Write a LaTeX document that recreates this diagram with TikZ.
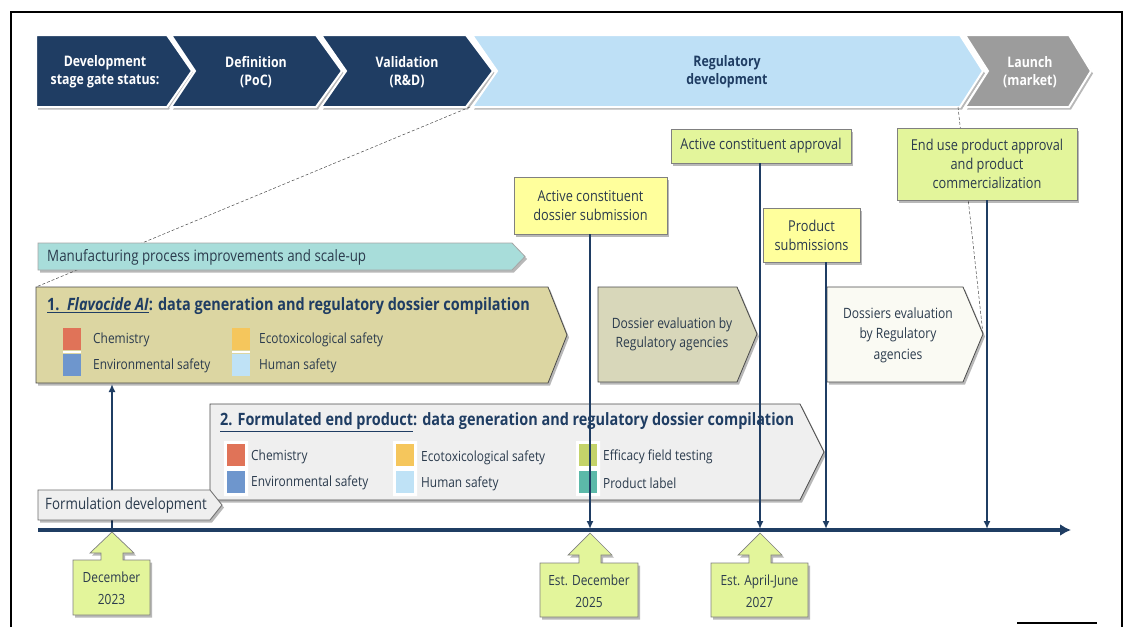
\documentclass[tikz,border=0pt]{standalone}
\usepackage{fontspec}
\setmainfont{Open Sans}[FakeStretch=0.85]
\usetikzlibrary{shadows,arrows.meta}

\definecolor{navy}{HTML}{1F3D63}
\definecolor{stageblue}{HTML}{BEE0F6}
\definecolor{launchgray}{HTML}{9C9C9C}
\definecolor{mfgteal}{HTML}{A8DDDA}
\definecolor{khaki}{HTML}{DCD6A2}
\definecolor{evalkhaki}{HTML}{D8D7BA}
\definecolor{evalwhite}{HTML}{FAFAF3}
\definecolor{panelgray}{HTML}{EFEFEF}
\definecolor{noteyellow}{HTML}{FFFF9C}
\definecolor{notelime}{HTML}{E3F59B}
\definecolor{chemred}{HTML}{E07358}
\definecolor{envblue}{HTML}{6E96CD}
\definecolor{ecoorange}{HTML}{F5C65C}
\definecolor{humblue}{HTML}{BFE2F6}
\definecolor{effolive}{HTML}{C4D36A}
\definecolor{labelteal}{HTML}{5CB9A9}
\definecolor{txt}{HTML}{2B3B4D}
\definecolor{edge}{HTML}{4A4A4A}

\tikzset{
  shd/.style={drop shadow={shadow xshift=2pt,shadow yshift=-2.5pt,fill=black,opacity=0.28}},
  stagebox/.style={shd,draw=white,line width=2pt,line join=miter},
  stagetext/.style={font=\fontsize{14.5}{18}\selectfont\bfseries,align=center,text=white},
  panel/.style={shd,draw=edge,line width=0.8pt},
  note/.style={shd,draw=edge!70,line width=0.7pt,rectangle,align=center,
    font=\fontsize{15}{19}\selectfont,text=txt,inner sep=0pt},
  datebox/.style={shd,draw=edge!70,line width=0.7pt,fill=notelime},
  datetext/.style={align=center,font=\fontsize{14}{22}\selectfont,text=txt},
  sq/.style={rectangle,minimum width=18pt,minimum height=22pt,inner sep=0pt},
  legend/.style={anchor=west,font=\fontsize{14}{16}\selectfont,text=txt,inner sep=0pt},
  title/.style={anchor=west,font=\fontsize{17}{20}\selectfont\bfseries,text=navy,inner sep=0pt},
  tagtext/.style={anchor=west,font=\fontsize{15.7}{18}\selectfont,text=txt,inner sep=0pt},
  link/.style={draw=navy,line width=2.4pt,-{Latex[length=8pt,width=7pt]}},
  guide/.style={draw=edge,line width=0.5pt,densely dashed}
}

\begin{document}
\begin{tikzpicture}[x=1pt,y=-1pt]
\useasboundingbox (0,0) rectangle (1128,627);
\fill[white] (0,0) rectangle (1128,627);

% page frame
\draw[line width=2pt] (11,627) -- (11,12) -- (1122,12) -- (1122,627);
\draw[line width=1.5pt] (1017,623) -- (1097,623);

% ---- stage gate banner ----
\path[stagebox,fill=navy] (36,35) -- (167,35) -- (192,71) -- (167,107) -- (36,107) -- cycle;
\path[stagebox,fill=navy] (171,35) -- (316,35) -- (342,71) -- (316,107) -- (171,107) -- (195,71) -- cycle;
\path[stagebox,fill=navy] (321,35) -- (466,35) -- (493,71) -- (466,107) -- (321,107) -- (346,71) -- cycle;
\path[stagebox,fill=stageblue] (472,35) -- (960,35) -- (983,71) -- (960,107) -- (472,107) -- (497,71) -- cycle;
\path[stagebox,fill=launchgray] (965,35) -- (1069,35) -- (1091,71) -- (1069,107) -- (965,107) -- (988,71) -- cycle;

\node[stagetext] (s1) at (105,72) {Development\\stage gate status:};
\node[stagetext] (s2) at (256,72) {Definition\\(PoC)};
\node[stagetext] (s3) at (407,72) {Validation\\(R\&D)};
\node[stagetext,text=navy] (s4) at (727,72) {Regulatory\\development};
\node[stagetext] (s5) at (1030,72) {Launch\\(market)};

% dashed guides from the banner
\coordinate (g1a) at (470,107);
\coordinate (g1b) at (36,287);
\coordinate (g2a) at (958,107);
\coordinate (g2b) at (983,334);
\draw[guide] (g1a) -- (g1b);

% ---- manufacturing bar ----
\path[panel,fill=mfgteal,draw=gray!70] (38,243) -- (512,243) -- (525,256.5) -- (512,270) -- (38,270) -- cycle;
\node[tagtext] (mfg) at (47,257) {Manufacturing process improvements and scale-up};

% ---- panel 1: active ingredient ----
\path[panel,fill=khaki] (36,287) -- (548,287) -- (567,335) -- (548,383) -- (36,383) -- cycle;
\node[title] (t1) at (47,306)
  {\underline{1.\ \ \textit{Flavocide AI}}: data generation and regulatory dossier compilation};
\node[sq,fill=chemred] (a1) at (72,339) {};
\node[sq,fill=envblue] (a2) at (72,365) {};
\node[sq,fill=ecoorange] (a3) at (241,339) {};
\node[sq,fill=humblue] (a4) at (241,365) {};
\draw[white,line width=2.5pt] (63,352) -- (81,352) (232,352) -- (250,352);
\node[legend] (l1) at (93,340) {Chemistry};
\node[legend] (l2) at (93,366) {Environmental safety};
\node[legend] (l3) at (259,340) {Ecotoxicological safety};
\node[legend] (l4) at (259,366) {Human safety};

% ---- regulator evaluation chevrons ----
\path[panel,fill=evalkhaki] (598,287) -- (737,287) -- (757,334) -- (737,382) -- (598,382) -- cycle;
\node[align=center,font=\fontsize{14.2}{19}\selectfont,text=txt] (ev1) at (672,334)
  {Dossier evaluation by\\Regulatory agencies};
\path[panel,fill=evalwhite] (827,287) -- (963,287) -- (983,334) -- (963,382) -- (827,382) -- cycle;
\node[align=center,font=\fontsize{14.2}{20.5}\selectfont,text=txt] (ev2) at (898,335)
  {Dossiers evaluation\\by Regulatory\\agencies};
\draw[guide] (g2a) -- (g2b);

% ---- panel 2: formulated product ----
\path[panel,fill=panelgray] (210,404) -- (800,404) -- (824,452) -- (800,500) -- (210,500) -- cycle;
\node[title] (t2) at (220,422)
  {\underline{2. Formulated end product}: data generation and regulatory dossier compilation};
\fill[white] (224,441) rectangle (248,496) (393,441) rectangle (417,496) (576,441) rectangle (600,496);
\node[sq,fill=chemred] (b1) at (236,455) {};
\node[sq,fill=envblue] (b2) at (236,482) {};
\node[sq,fill=ecoorange] (b3) at (405,455) {};
\node[sq,fill=humblue] (b4) at (405,482) {};
\node[sq,fill=effolive] (b5) at (588,455) {};
\node[sq,fill=labelteal] (b6) at (588,482) {};
\node[legend] (m1) at (251,457) {Chemistry};
\node[legend] (m2) at (251,483) {Environmental safety};
\node[legend] (m3) at (421,458) {Ecotoxicological safety};
\node[legend] (m4) at (421,484) {Human safety};
\node[legend] (m5) at (603,457) {Efficacy field testing};
\node[legend] (m6) at (603,483) {Product label};

% ---- milestone notes ----
\node[note,fill=noteyellow,minimum width=153pt,minimum height=57pt] (n1) at (590.5,205.5)
  {Active constituent\\dossier submission};
\node[note,fill=notelime,minimum width=180pt,minimum height=34pt] (n2) at (761,146)
  {Active constituent approval};
\node[note,fill=noteyellow,minimum width=97pt,minimum height=54pt] (n3) at (811.5,235)
  {Product\\submissions};
\node[note,fill=notelime,minimum width=180pt,minimum height=72pt] (n4) at (987,164)
  {End use product approval\\and product\\commercialization};

% ---- timeline ----
\coordinate (tl0) at (38,530);
\coordinate (tl1) at (1071,530);
\draw[navy,line width=4pt,-{Latex[length=11pt,width=12pt]}] (tl0) -- (tl1);

\coordinate (p0) at (112,529);
\coordinate (p1) at (590,529);
\coordinate (p2) at (760,529);
\coordinate (p3) at (826,529);
\coordinate (p4) at (987,529);
\coordinate (q0) at (112,384);

\draw[link] (p0) -- (q0);
\draw[link] (n1.south -| p1) -- (p1);
\draw[link] (n2.south -| p2) -- (p2);
\draw[link] (n3.south -| p3) -- (p3);
\draw[link] (n4.south -| p4) -- (p4);

% ---- formulation development tag (over the riser) ----
\path[panel,fill=panelgray,draw=edge!80] (38,490) -- (210,490) -- (222,505) -- (210,520) -- (38,520) -- cycle;
\node[tagtext] (fd) at (45,505) {Formulation development};

% ---- date markers ----
\path[datebox] (73,560) -- (101,560) -- (101,553) -- (90,553) -- (112,532) -- (134,553)
  -- (123,553) -- (123,560) -- (150,560) -- (150,615) -- (73,615) -- cycle;
\node[datetext] (d1) at (111.5,588) {December\\2023};

\path[datebox] (540,563) -- (579,563) -- (579,555) -- (568,555) -- (590,533) -- (612,555)
  -- (601,555) -- (601,563) -- (638,563) -- (638,617) -- (540,617) -- cycle;
\node[datetext] (d2) at (589,591) {Est. December\\2025};

\path[datebox] (711,563) -- (749,563) -- (749,555) -- (738,555) -- (760,533) -- (782,555)
  -- (771,555) -- (771,563) -- (808,563) -- (808,617) -- (711,617) -- cycle;
\node[datetext] (d3) at (759.5,591) {Est. April-June\\2027};

\end{tikzpicture}
\end{document}
